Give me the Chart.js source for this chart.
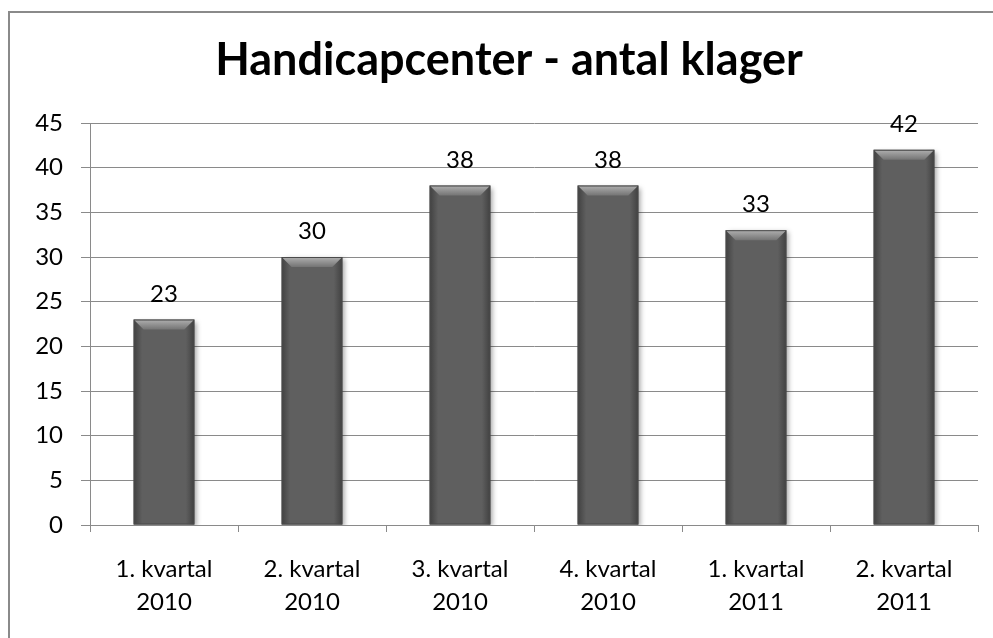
<!DOCTYPE html>
<html>
<head>
<meta charset="utf-8">
<script src="https://cdn.jsdelivr.net/npm/chart.js@4"></script>
<style>
  html, body { margin: 0; padding: 0; background: #fff; overflow: hidden; }
</style>
</head>
<body>
<canvas id="myChart" width="993" height="638"></canvas>
<script>
var chartTitle = 'Handicapcenter - antal klager';
var quarterLabels = [
  ['1. kvartal', '2010'],
  ['2. kvartal', '2010'],
  ['3. kvartal', '2010'],
  ['4. kvartal', '2010'],
  ['1. kvartal', '2011'],
  ['2. kvartal', '2011']
];
var complaintCounts = [23, 30, 38, 38, 33, 42];
var yTicks = [0, 5, 10, 15, 20, 25, 30, 35, 40, 45];

var fontFamily = 'Lato, "Open Sans", sans-serif';

// outer frame (only top and left edge are inside the picture) and the title
var frameAndTitle = {
  id: 'frameAndTitle',
  beforeDraw: function (chart) {
    var ctx = chart.ctx;
    ctx.save();
    ctx.strokeStyle = '#8a8a8a';
    ctx.lineWidth = 2;
    ctx.beginPath();
    ctx.moveTo(9, chart.height);
    ctx.lineTo(9, 12);
    ctx.lineTo(chart.width, 12);
    ctx.stroke();
    ctx.fillStyle = '#000';
    ctx.font = 'bold 45px ' + fontFamily;
    ctx.textAlign = 'center';
    ctx.textBaseline = 'alphabetic';
    ctx.fillText(chartTitle, 509, 75);
    ctx.restore();
  }
};

// shadow behind the bars
var barShadow = {
  id: 'barShadow',
  beforeDatasetsDraw: function (chart) {
    var ctx = chart.ctx;
    ctx.save();
    ctx.shadowColor = 'rgba(0,0,0,0.35)';
    ctx.shadowBlur = 5;
    ctx.shadowOffsetX = 3;
    ctx.shadowOffsetY = 2;
  },
  afterDatasetsDraw: function (chart) {
    chart.ctx.restore();
  }
};

// bevel on top of each bar + the value above it
var barBevel = {
  id: 'barBevel',
  afterDatasetsDraw: function (chart) {
    var ctx = chart.ctx;
    var meta = chart.getDatasetMeta(0);
    meta.data.forEach(function (bar, i) {
      var left = bar.x - bar.width / 2;
      var right = bar.x + bar.width / 2;
      var top = bar.y;
      var bottom = bar.base;
      var b = 10;
      ctx.save();
      // side strips
      var side = ctx.createLinearGradient(left, 0, right, 0);
      side.addColorStop(0, 'rgba(40,40,40,0.55)');
      side.addColorStop(0.14, 'rgba(40,40,40,0)');
      side.addColorStop(0.86, 'rgba(40,40,40,0)');
      side.addColorStop(1, 'rgba(40,40,40,0.55)');
      ctx.fillStyle = side;
      ctx.fillRect(left, top, right - left, bottom - top);
      // top bevel
      var g = ctx.createLinearGradient(0, top, 0, top + b);
      g.addColorStop(0, '#b0b0b0');
      g.addColorStop(1, '#747474');
      ctx.fillStyle = g;
      ctx.beginPath();
      ctx.moveTo(left, top);
      ctx.lineTo(right, top);
      ctx.lineTo(right - b, top + b);
      ctx.lineTo(left + b, top + b);
      ctx.closePath();
      ctx.fill();
      ctx.strokeStyle = '#4a4a4a';
      ctx.lineWidth = 1;
      ctx.strokeRect(left + 0.5, top + 0.5, right - left - 1, bottom - top - 1);
      // value label
      ctx.fillStyle = '#000';
      ctx.font = '24px ' + fontFamily;
      ctx.textAlign = 'center';
      ctx.textBaseline = 'alphabetic';
      ctx.fillText(String(complaintCounts[i]), bar.x, top - 18);
      ctx.restore();
    });
  }
};

var chart = new Chart(document.getElementById('myChart'), {
  type: 'bar',
  data: {
    labels: quarterLabels,
    datasets: [{
      label: 'Antal klager',
      data: complaintCounts,
      backgroundColor: '#5f5f5f',
      borderWidth: 0,
      barPercentage: 0.41,
      categoryPercentage: 1
    }]
  },
  options: {
    responsive: false,
    animation: false,
    layout: { padding: { top: 123, right: 15, bottom: 0, left: 0 } },
    plugins: {
      legend: { display: false },
      tooltip: { enabled: false },
      title: { display: false }
    },
    scales: {
      x: {
        grid: { drawOnChartArea: false, tickLength: 7, color: '#8a8a8a', offset: true },
        border: { color: '#8a8a8a', width: 1 },
        ticks: {
          color: '#000',
          padding: 20,
          maxRotation: 0,
          font: { family: fontFamily, size: 24, lineHeight: 1.4 }
        },
        afterFit: function (scale) { scale.height = 113; }
      },
      y: {
        min: 0,
        max: 45,
        afterBuildTicks: function (scale) {
          scale.ticks = yTicks.map(function (v) { return { value: v }; });
        },
        grid: { color: '#8a8a8a', tickLength: 9 },
        border: { color: '#8a8a8a', width: 1 },
        ticks: {
          color: '#000',
          padding: 18,
          font: { family: fontFamily, size: 24 }
        },
        afterFit: function (scale) { scale.width = 90; }
      }
    }
  },
  plugins: [frameAndTitle, barShadow, barBevel]
});
</script>
</body>
</html>
